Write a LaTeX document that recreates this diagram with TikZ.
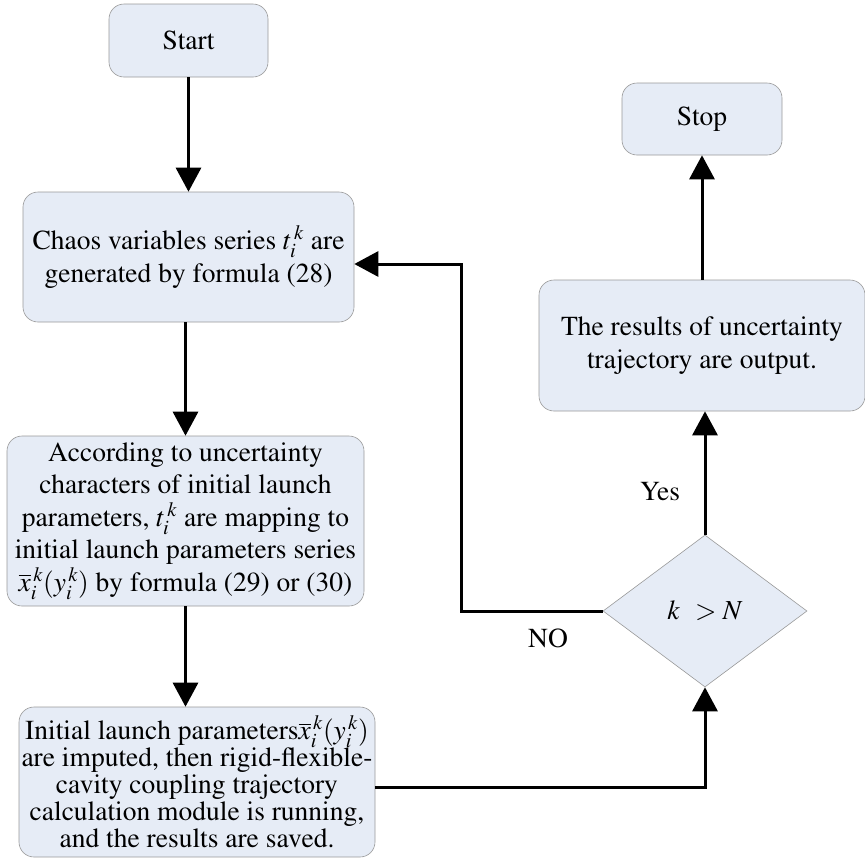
\documentclass[tikz,border=0pt]{standalone}
\usepackage[T1]{fontenc}
\usepackage{mathptmx}
\usetikzlibrary{shapes.geometric,arrows.meta}
\tikzset{
  box/.style={draw=black!40, line width=0.6pt, fill=boxfill, rounded corners=15pt, align=center, inner sep=0pt, font=\rmfamily\fontsize{27.5}{32.5}\selectfont},
  cond/.style={diamond, draw=black!40, line width=0.6pt, fill=boxfill, inner sep=0pt, minimum width=204pt, minimum height=152pt, font=\rmfamily\fontsize{27.5}{32}\selectfont},
  conn/.style={line width=3pt, -{Triangle[length=24pt,width=25pt]}},
  lbl/.style={font=\rmfamily\fontsize{27.5}{32}\selectfont, inner sep=0pt}
}
\definecolor{boxfill}{HTML}{E6ECF6}
\begin{document}
\begin{tikzpicture}[x=1pt,y=-1pt]
\useasboundingbox (0,0) rectangle (865,860);
\node[box, minimum width=159pt, minimum height=73pt] (start) at (188.5,40.5) {Start};
\node[box, minimum width=331pt, minimum height=130pt] (chaos) at (188.5,257) {Chaos variables series $t_{i}^{\,k}$ are\\generated by formula (28)};
\node[box, minimum width=357pt, minimum height=170pt] (map) at (185.5,521) {According to uncertainty\\characters of initial launch\\parameters, $t_{i}^{\,k}$ are mapping to\\initial launch parameters series\\$\overline{x}_{i}^{\,k}(y_{i}^{\,k})$ by formula (29) or (30)};
\node[box, minimum width=356pt, minimum height=150pt, font=\rmfamily\fontsize{27.5}{27}\selectfont] (init) at (197,782) {Initial launch parameters$\overline{x}_{i}^{\,k}(y_{i}^{\,k})$\\are imputed, then rigid-flexible-\\cavity coupling trajectory\\calculation module is running,\\and the results are saved.};
\node[cond] (dia) at (705,611) {$k\;\,>N$};
\node[box, minimum width=326pt, minimum height=131pt] (res) at (702,345.5) {The results of uncertainty\\trajectory are output.};
\node[box, minimum width=160pt, minimum height=72pt] (stop) at (702,119) {Stop};
\coordinate (fb) at (461,264);
\draw[conn] (start.south) -- (chaos.north);
\draw[conn] (chaos.south -| map.north) -- (map.north);
\draw[conn] (map.south) -- (map.south |- init.north);
\draw[conn] (init.east |- 0,787) -| (dia.south);
\draw[conn] (dia.north) -- (dia.north |- res.south);
\draw[conn] (res.north -| stop.south) -- (stop.south);
\draw[conn] (dia.west) -| (fb) -- (chaos.east |- fb);
\node[lbl] (yes) at (660,492) {Yes};
\node[lbl] (no) at (548,638) {NO};
\end{tikzpicture}
\end{document}
